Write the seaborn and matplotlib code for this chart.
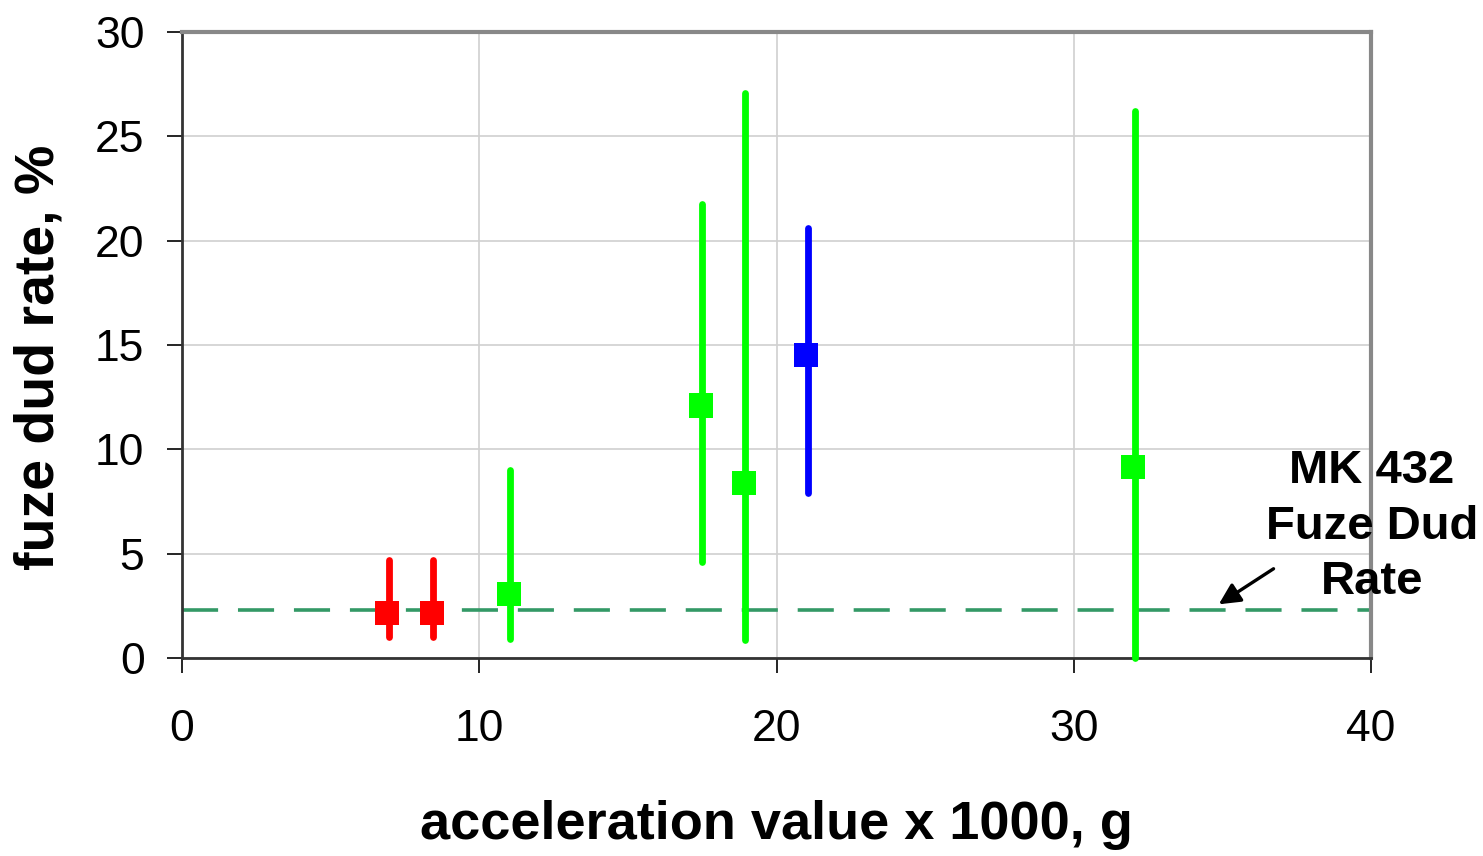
import matplotlib
matplotlib.use("Agg")
import matplotlib.pyplot as plt
import seaborn as sns
import pandas as pd

# data
accel = [6.9, 8.4, 11.0, 17.45, 18.9, 21.0, 32.0]
dud_rate = [2.15, 2.15, 3.05, 12.1, 8.4, 14.5, 9.15]
err_low = [1.0, 1.0, 0.9, 4.6, 0.85, 7.9, 0.0]
err_high = [4.7, 4.7, 9.0, 21.75, 27.1, 20.6, 26.2]
group = ["red", "red", "green", "green", "green", "blue", "green"]
group_colors = {"red": "#ff0000", "green": "#00ff00", "blue": "#0000ff"}
mk432_rate = 2.3
x_ticks = [0, 10, 20, 30, 40]
y_ticks = [0, 5, 10, 15, 20, 25, 30]

df = pd.DataFrame({"accel": accel, "rate": dud_rate, "lo": err_low,
                   "hi": err_high, "group": group})

sns.set_theme(style="white")
plt.rcParams["font.family"] = ["Liberation Sans", "DejaVu Sans"]
plt.rcParams["text.color"] = "black"
plt.rcParams["axes.labelcolor"] = "black"
plt.rcParams["xtick.color"] = "black"
plt.rcParams["ytick.color"] = "black"

fig = plt.figure(figsize=(14.83, 8.56), dpi=100)
ax = fig.add_axes([182 / 1483, 1 - 658 / 856, (1371 - 182) / 1483, (658 - 32) / 856])

ax.set_xlim(0, 40)
ax.set_ylim(0, 30)
ax.set_xticks(x_ticks)
ax.set_yticks(y_ticks)
ax.grid(True, color="#d0d0d0", lw=1.2)
ax.set_axisbelow(True)

# dashed reference line
ax.axhline(mk432_rate, color="#339966", lw=2.6, dashes=(10, 5.5), zorder=2)

# error bars
for _, r in df.iterrows():
    ax.plot([r["accel"] + 0.05, r["accel"] + 0.05], [r["lo"], r["hi"]],
            color=group_colors[r["group"]], lw=4.9, solid_capstyle="round",
            zorder=3, clip_on=False)

sns.scatterplot(data=df, x="accel", y="rate", hue="group", palette=group_colors,
                marker="s", s=300, linewidth=0, legend=False, ax=ax, zorder=4,
                clip_on=False)

ax.set_xlabel("acceleration value x 1000, g", fontsize=39, fontweight="bold",
              labelpad=36)
ax.set_ylabel("fuze dud rate, %", fontsize=40, fontweight="bold")
ax.yaxis.set_label_coords(-0.098, 0.48)

ax.tick_params(axis="both", which="major", direction="out", length=11, width=1.2,
               color="black", labelcolor="black", labelsize=32, bottom=True, left=True)
ax.tick_params(axis="x", pad=26)
ax.tick_params(axis="y", pad=16)

for s in ["left", "bottom"]:
    ax.spines[s].set_color("#333333")
    ax.spines[s].set_linewidth(2)
for s in ["top", "right"]:
    ax.spines[s].set_color("#888888")
    ax.spines[s].set_linewidth(3)

ax.text(40.03, 6.3, "MK 432\nFuze Dud\nRate", ha="center", va="center",
        fontsize=34, fontweight="bold", linespacing=1.35, clip_on=False, zorder=5,
        color="black")
ax.annotate("", xy=(34.8, 2.5), xytext=(36.8, 4.35),
            arrowprops=dict(arrowstyle="-|>", color="black", lw=2.4,
                            mutation_scale=32), zorder=5)

fig.savefig("out.png", dpi=100)
